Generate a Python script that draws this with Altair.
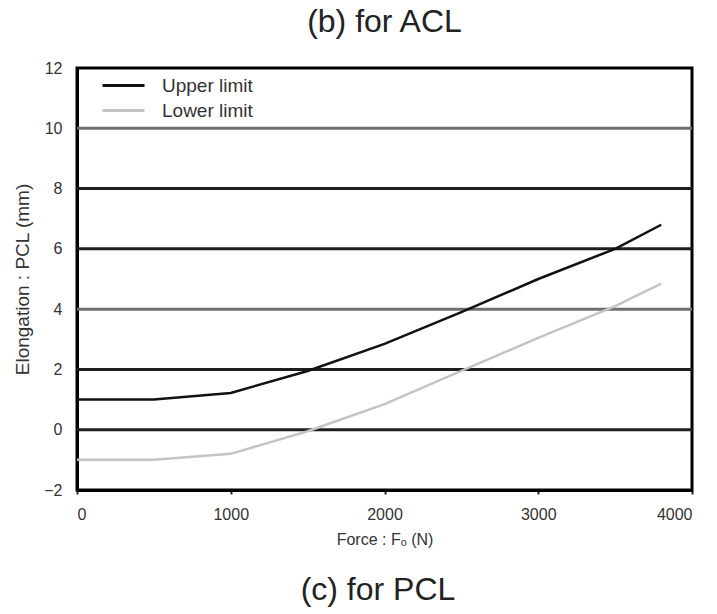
import altair as alt
import pandas as pd

force = [0, 500, 1000, 1500, 2000, 2500, 3000, 3500, 3800]
upper = [1.0, 1.0, 1.22, 1.95, 2.85, 3.9, 5.0, 6.0, 6.8]
lower = [-1.0, -1.0, -0.8, -0.05, 0.85, 1.95, 3.05, 4.1, 4.85]
series_names = ["Upper limit", "Lower limit"]
series_colors = ["#111111", "#c4c4c4"]

grid_y = [10, 8, 6, 4, 2, 0]
grid_colors = ["#6f6f6f", "#1e1e1e", "#1e1e1e", "#6f6f6f", "#1e1e1e", "#1e1e1e"]

x_ticks = [0, 1000, 2000, 3000, 4000]
y_ticks = [-2, 0, 2, 4, 6, 8, 10, 12]

rows = []
for f, u, l in zip(force, upper, lower):
    rows.append({"F": f, "E": u, "s": series_names[0]})
    rows.append({"F": f, "E": l, "s": series_names[1]})
df = pd.DataFrame(rows)
grid = pd.DataFrame({"y": grid_y, "c": grid_colors})

font = "Liberation Sans"
xs = alt.Scale(domain=[0, 4000], nice=False)
ys = alt.Scale(domain=[-2, 12], nice=False)

gridlines = alt.Chart(grid).mark_rule(strokeWidth=3).encode(
    y=alt.Y("y:Q", scale=ys),
    color=alt.Color("c:N", scale=None),
)

lines = alt.Chart(df).mark_line(strokeWidth=2.5).encode(
    x=alt.X("F:Q", scale=xs,
            axis=alt.Axis(values=x_ticks, title="Force : Fₒ (N)", format="d",
                          grid=False, tickSize=4, labelPadding=12, titlePadding=9,
                          titleFontSize=16)),
    y=alt.Y("E:Q", scale=ys,
            axis=alt.Axis(values=y_ticks, title="Elongation : PCL (mm)", format="d",
                          grid=False, tickSize=0, labelPadding=15, titlePadding=11,
                          titleFontSize=19)),
    color=alt.Color("s:N", scale=alt.Scale(domain=series_names, range=series_colors),
                    legend=alt.Legend(title=None, orient="none", legendX=24, legendY=5,
                                      symbolType="stroke", symbolSize=1764,
                                      symbolStrokeWidth=3, labelFontSize=19,
                                      labelFont=font, labelColor="#333",
                                      rowPadding=0, clipHeight=25, labelOffset=16)),
    detail="s:N",
)

bottom_title = alt.Chart(pd.DataFrame({"t": ["(c) for PCL"]})).mark_text(
    fontSize=32, font=font, color="#222", baseline="middle", align="center"
).encode(text="t:N", x=alt.value(301), y=alt.value(522))

chart = alt.layer(gridlines, lines, bottom_title).properties(
    width=615, height=422,
    title=alt.TitleParams("(b) for ACL", fontSize=32, font=font, fontWeight="normal",
                          color="#222", offset=21, anchor="middle"),
    padding={"left": 77, "top": 68, "right": 25, "bottom": 124},
    autosize=alt.AutoSizeParams(type="none"),
).configure_view(stroke="#000", strokeWidth=3).configure_axis(
    domainColor="#000", domainWidth=3, tickColor="#222", tickWidth=2,
    labelFont=font, labelFontSize=16, labelFontWeight="normal", labelColor="#333",
    titleFont=font, titleFontWeight="normal", titleColor="#333",
)

chart.save("out.html", embed_options={"renderer": "svg", "actions": False})
